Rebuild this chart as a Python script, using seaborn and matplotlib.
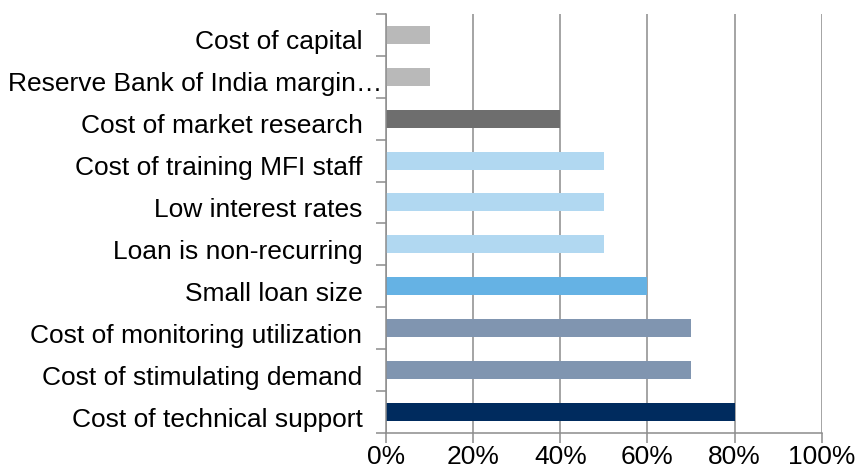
import pandas as pd
import numpy as np
import matplotlib
matplotlib.use("Agg")
import matplotlib.pyplot as plt
from matplotlib.ticker import MultipleLocator, PercentFormatter
from matplotlib.transforms import ScaledTranslation
import seaborn as sns

categories = [
    "Cost of capital",
    "Reserve Bank of India margin\u2026",
    "Cost of market research",
    "Cost of training MFI staff",
    "Low interest rates",
    "Loan is non-recurring",
    "Small loan size",
    "Cost of monitoring utilization",
    "Cost of stimulating demand",
    "Cost of technical support",
]
shares = [10, 10, 40, 50, 50, 50, 60, 70, 70, 80]
bar_colors = [
    "#B9B9B9", "#B9B9B9", "#6E6E6E",
    "#B1D8F1", "#B1D8F1", "#B1D8F1",
    "#65B2E4", "#8095B0", "#8095B0", "#002B5E",
]

df = pd.DataFrame({"category": categories, "share": shares})

sns.set_style("white")
plt.rcParams["font.family"] = ["Liberation Sans", "DejaVu Sans"]

fig = plt.figure(figsize=(8.56, 4.77), dpi=100)
ax = fig.add_axes([0.451, 0.090, 0.509, 0.879])

sns.barplot(data=df, x="share", y="category", hue="category",
            palette=bar_colors, width=0.43, legend=False, ax=ax,
            saturation=1, linewidth=0)

grid_col = "#8C8C8C"
ax.set_xlim(0, 100)
ax.set_ylim(9.5, -0.5)
ax.xaxis.set_major_locator(MultipleLocator(20))
ax.xaxis.set_major_formatter(PercentFormatter(decimals=0))
ax.grid(axis="x", color=grid_col, linewidth=1.1)
ax.set_axisbelow(True)

# tick marks sit between the categories
ax.set_yticks(np.arange(-0.5, 10, 1), minor=True)
ax.tick_params(axis="y", which="major", length=0, pad=17, labelsize=19,
               labelcolor="black")
ax.tick_params(axis="y", which="minor", length=7, width=1.1, color=grid_col,
               direction="out", left=True)
ax.tick_params(axis="x", length=7, width=1.1, color=grid_col,
               direction="out", bottom=True, pad=1, labelsize=19,
               labelcolor="black")

for side in ["top", "right"]:
    ax.spines[side].set_visible(False)
for side in ["left", "bottom"]:
    ax.spines[side].set_color(grid_col)
    ax.spines[side].set_linewidth(1.1)

ax.set_xlabel("")
ax.set_ylabel("")

# labels sit a little below the bar centres; the truncated one runs into the axis
for i, lab in enumerate(ax.get_yticklabels()):
    dx = 20 / 100 if i == 1 else 0
    lab.set_transform(lab.get_transform() + ScaledTranslation(dx, -4 / 100, fig.dpi_scale_trans))

fig.savefig("out.png", dpi=100)
